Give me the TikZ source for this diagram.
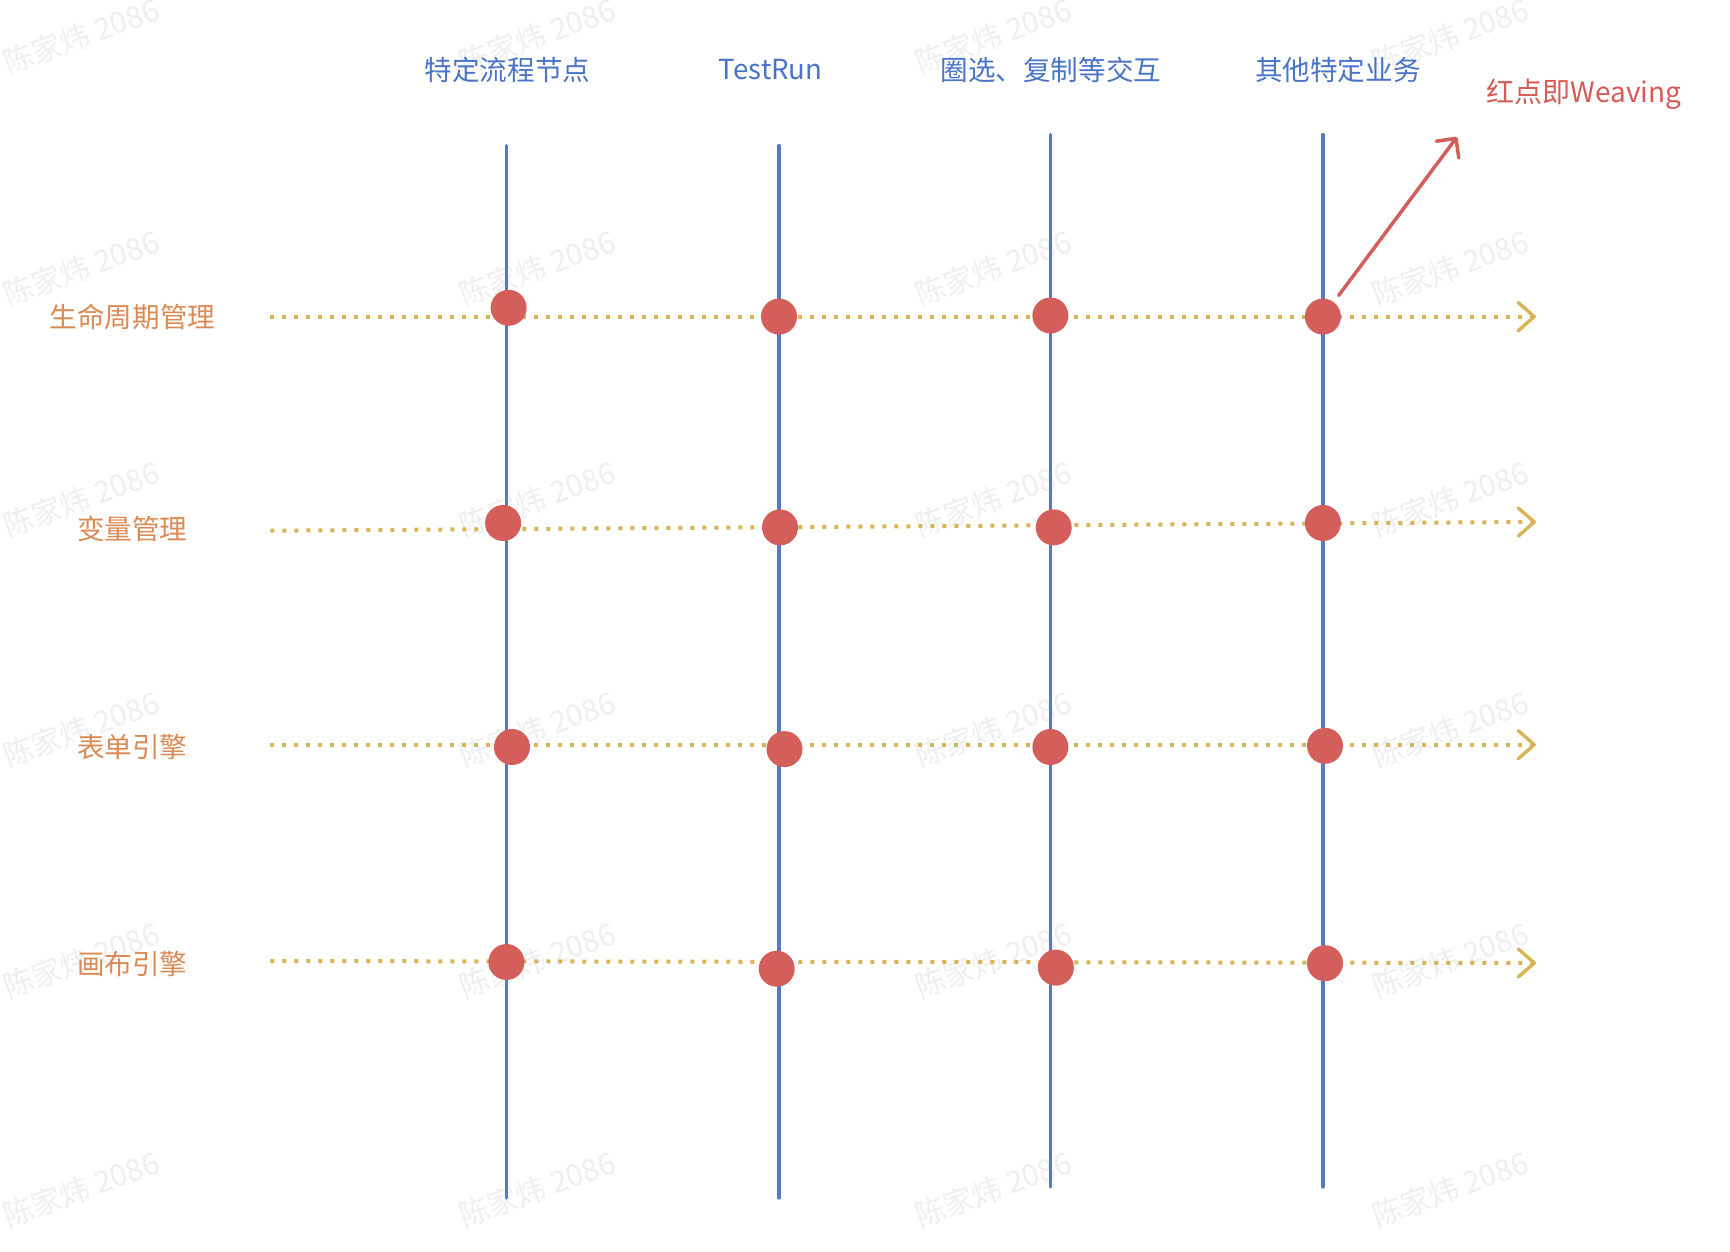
\documentclass[tikz,border=0pt]{standalone}
\usepackage{fontspec}
\setmainfont{Noto Sans CJK SC}
\usetikzlibrary{arrows.meta}
\definecolor{vblue}{HTML}{4F7BC9}
\definecolor{tblue}{HTML}{4A74C6}
\definecolor{lorange}{HTML}{DA8A55}
\definecolor{hgold}{HTML}{D9B455}
\definecolor{dred}{HTML}{D45F5A}
\definecolor{wred}{HTML}{D65A55}
\definecolor{wmgray}{HTML}{EEEFF1}
\begin{document}
\begin{tikzpicture}[x=0.5pt,y=-0.5pt,
  vline/.style={draw=vblue, line width=1.65pt, line cap=round},
  hline/.style={draw=hgold, line width=2pt, dash pattern=on 2pt off 4pt,
    -{Straight Barb[length=8pt,width=14pt,line width=1.7pt,line cap=round,line join=round]}},
  dot/.style={circle, fill=dred, inner sep=0pt, minimum size=18pt},
  coltitle/.style={text=tblue, font=\fontsize{13.8}{16}\selectfont, inner sep=0pt},
  rowlabel/.style={text=lorange, font=\fontsize{13.8}{16}\selectfont, inner sep=0pt},
  wm/.style={text=wmgray, font=\fontsize{15}{18}\selectfont, rotate=20, inner sep=0pt},
  redarrow/.style={draw=dred, line width=1.75pt, line cap=round,
    -{Straight Barb[length=7pt,width=14pt,line cap=round,line join=round]}}
]
\useasboundingbox[fill=white] (0,0) rectangle (1730,1252);

% watermarks
\foreach \wx [count=\i] in {81,537,993,1450}{
  \foreach \wy [count=\j] in {36,268,499,729,960,1189}{
    \node[wm] (wm-\i-\j) at (\wx,\wy) {陈家炜 2086};
  }
}

% column titles
\node[coltitle] (t1) at (507.5,69.5) {特定流程节点};
\node[coltitle] (t2) at (770.7,69.5) {TestRun};
\node[coltitle] (t3) at (1050.9,69.5) {圈选、复制等交互};
\node[coltitle] (t4) at (1337.8,69.5) {其他特定业务};
\node[text=wred, font=\fontsize{14}{16}\selectfont, inner sep=0pt] (weave) at (1584,94) {红点即Weaving};

% row labels
\node[rowlabel] (r1) at (132.4,316.6) {生命周期管理};
\node[rowlabel] (r2) at (132.4,528.5) {变量管理};
\node[rowlabel] (r3) at (132.4,747) {表单引擎};
\node[rowlabel] (r4) at (132.4,964.3) {画布引擎};

% vertical lines
\coordinate (v1t) at (506.4,145.6); \coordinate (v1b) at (506.4,1198);
\coordinate (v2t) at (779,145.6);   \coordinate (v2b) at (779,1198);
\coordinate (v3t) at (1050.4,134.6);\coordinate (v3b) at (1050.4,1187);
\coordinate (v4t) at (1322.9,134.6);\coordinate (v4b) at (1322.9,1187);
\draw[vline] (v1t) -- (v1b);
\draw[vline] (v2t) -- (v2b);
\draw[vline] (v3t) -- (v3b);
\draw[vline] (v4t) -- (v4b);

% dotted rows
\coordinate (h1s) at (270.3,316.6); \coordinate (h1e) at (1536,316.6);
\coordinate (h2s) at (270.3,530.7); \coordinate (h2e) at (1536,521.9);
\coordinate (h3s) at (270.3,744.7); \coordinate (h3e) at (1536,744.7);
\coordinate (h4s) at (270.3,961);   \coordinate (h4e) at (1536,963);
\draw[hline] (h1s) -- (h1e);
\draw[hline] (h2s) -- (h2e);
\draw[hline] (h3s) -- (h3e);
\draw[hline] (h4s) -- (h4e);

% weaving dots
\node[dot] (d11) at (508.6,307.8) {};
\node[dot] (d12) at (779,316.6) {};
\node[dot] (d13) at (1050.4,315.5) {};
\node[dot] (d14) at (1322.9,316.6) {};
\node[dot] (d21) at (503.1,523) {};
\node[dot] (d22) at (780,527.4) {};
\node[dot] (d23) at (1053.7,527.4) {};
\node[dot] (d24) at (1322.9,523) {};
\node[dot] (d31) at (512,747) {};
\node[dot] (d32) at (784.5,749.1) {};
\node[dot] (d33) at (1050.4,747) {};
\node[dot] (d34) at (1325,745.8) {};
\node[dot] (d41) at (506.4,962) {};
\node[dot] (d42) at (776.7,968.7) {};
\node[dot] (d43) at (1055.9,967.6) {};
\node[dot] (d44) at (1325,963.2) {};

% red arrow
\coordinate (wtip) at (1457,137);
\draw[redarrow, shorten <=4pt] (d14) -- (wtip);
\end{tikzpicture}
\end{document}
